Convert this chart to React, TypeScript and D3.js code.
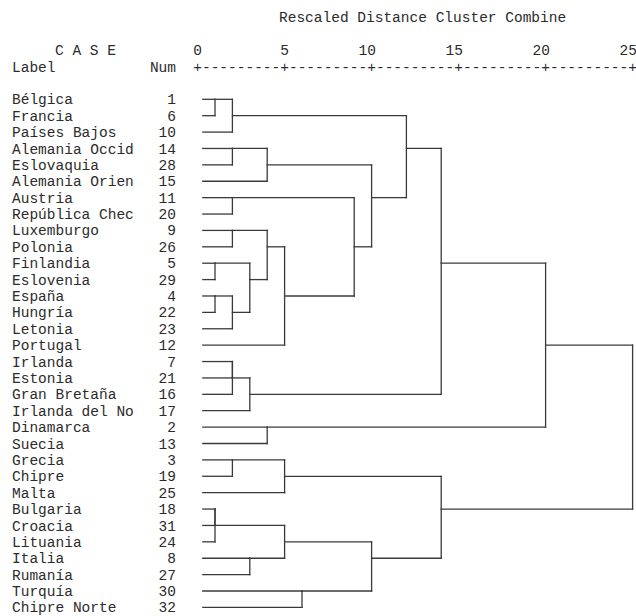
import { useEffect, useRef } from "react";
import * as d3 from "d3";

// leaf order, top to bottom
const labels = [
  "Bélgica", "Francia", "Países Bajos", "Alemania Occid", "Eslovaquia",
  "Alemania Orien", "Austria", "República Chec", "Luxemburgo", "Polonia",
  "Finlandia", "Eslovenia", "España", "Hungría", "Letonia", "Portugal",
  "Irlanda", "Estonia", "Gran Bretaña", "Irlanda del No", "Dinamarca",
  "Suecia", "Grecia", "Chipre", "Malta", "Bulgaria", "Croacia", "Lituania",
  "Italia", "Rumanía", "Turquía", "Chipre Norte",
];
const caseNums = [
  1, 6, 10, 14, 28, 15, 11, 20, 9, 26, 5, 29, 4, 22, 23, 12,
  7, 21, 16, 17, 2, 13, 3, 19, 25, 18, 31, 24, 8, 27, 30, 32,
];

// merges: ids < 32 are leaves, merge k gets id 32 + k
const mergeLeft = [0, 32, 3, 34, 6, 8, 10, 12, 39, 38, 37, 42, 36, 35, 33, 16, 47, 48, 46, 20, 50, 22, 53, 25, 55, 28, 56, 30, 58, 54, 52];
const mergeRight = [1, 2, 4, 5, 7, 9, 11, 13, 14, 40, 41, 15, 43, 44, 45, 17, 18, 19, 49, 21, 51, 23, 24, 26, 27, 29, 57, 31, 59, 60, 61];
const mergeDist = [1, 2, 2, 4, 2, 2, 1, 1, 2, 3, 4, 5, 9, 10, 12, 2, 2, 3, 14, 4, 20, 2, 5, 1, 1, 3, 5, 6, 10, 14, 25];

const axisTicks = [0, 5, 10, 15, 20, 25];

const App = () => {
  const ref = useRef(null);

  useEffect(() => {
    document.body.style.margin = "0";
    if (!ref.current) return;
    const svg = d3.select(ref.current);
    svg.selectAll("*").remove();

    const width = 636;
    const height = 616;
    const font = "'Liberation Mono', 'Courier New', monospace";
    const fs = 14.5;
    const ink = "#2b2b2b";

    svg.attr("width", width).attr("height", height).attr("viewBox", [0, 0, width, height]);

    const x = d3.scaleLinear().domain([0, 25]).range([197.6, 632.6]);
    const y = d3.scaleLinear().domain([0, 31]).range([99.3, 607.4]);
    const cell = (x(25) - x(0)) / 50;

    const txt = svg
      .append("g")
      .attr("font-family", font)
      .attr("font-size", fs)
      .attr("fill", ink);

    txt.append("text").attr("x", 279).attr("y", 17).attr("dy", "0.35em")
      .text("Rescaled Distance Cluster Combine");
    txt.append("text").attr("x", 55).attr("y", 50).attr("dy", "0.35em")
      .attr("xml:space", "preserve").text("C A S E");
    txt.append("text").attr("x", 12).attr("y", 67).attr("dy", "0.35em").text("Label");
    txt.append("text").attr("x", 176).attr("y", 67).attr("dy", "0.35em")
      .attr("text-anchor", "end").text("Num");

    txt.selectAll(".tick")
      .data(axisTicks)
      .join("text")
      .attr("x", (d) => x(d) + cell / 2)
      .attr("y", 50)
      .attr("dy", "0.35em")
      .attr("text-anchor", "end")
      .text((d) => d);

    const rule = axisTicks.map(() => "+").join("---------");
    txt.append("text")
      .attr("x", x(0) - cell / 2)
      .attr("y", 67)
      .attr("dy", "0.35em")
      .attr("textLength", rule.length * cell)
      .attr("lengthAdjust", "spacing")
      .text(rule);

    txt.selectAll(".lab")
      .data(labels)
      .join("text")
      .attr("x", 12)
      .attr("y", (_, i) => y(i))
      .attr("dy", "0.35em")
      .text((d) => d);

    txt.selectAll(".num")
      .data(caseNums)
      .join("text")
      .attr("x", 176)
      .attr("y", (_, i) => y(i))
      .attr("dy", "0.35em")
      .attr("text-anchor", "end")
      .text((d) => d);

    // positions of every node: row index and distance
    const row: number[] = labels.map((_, i) => i);
    const dist: number[] = labels.map(() => 0.3);
    mergeDist.forEach((h, k) => {
      const a = mergeLeft[k];
      const b = mergeRight[k];
      row.push(Math.floor((row[a] + row[b]) / 2));
      dist.push(h);
    });

    const segs: [number, number, number, number][] = [];
    mergeDist.forEach((h, k) => {
      const a = mergeLeft[k];
      const b = mergeRight[k];
      segs.push([x(dist[a]), y(row[a]), x(h), y(row[a])]);
      segs.push([x(dist[b]), y(row[b]), x(h), y(row[b])]);
      segs.push([x(h), y(row[a]), x(h), y(row[b])]);
    });

    svg.append("g")
      .attr("stroke", "#3a3a3a")
      .attr("stroke-width", 1.3)
      .attr("stroke-linecap", "square")
      .selectAll("line")
      .data(segs)
      .join("line")
      .attr("x1", (d) => d[0])
      .attr("y1", (d) => d[1])
      .attr("x2", (d) => d[2])
      .attr("y2", (d) => d[3]);
  }, []);

  return <svg ref={ref}></svg>;
};

export default App;
